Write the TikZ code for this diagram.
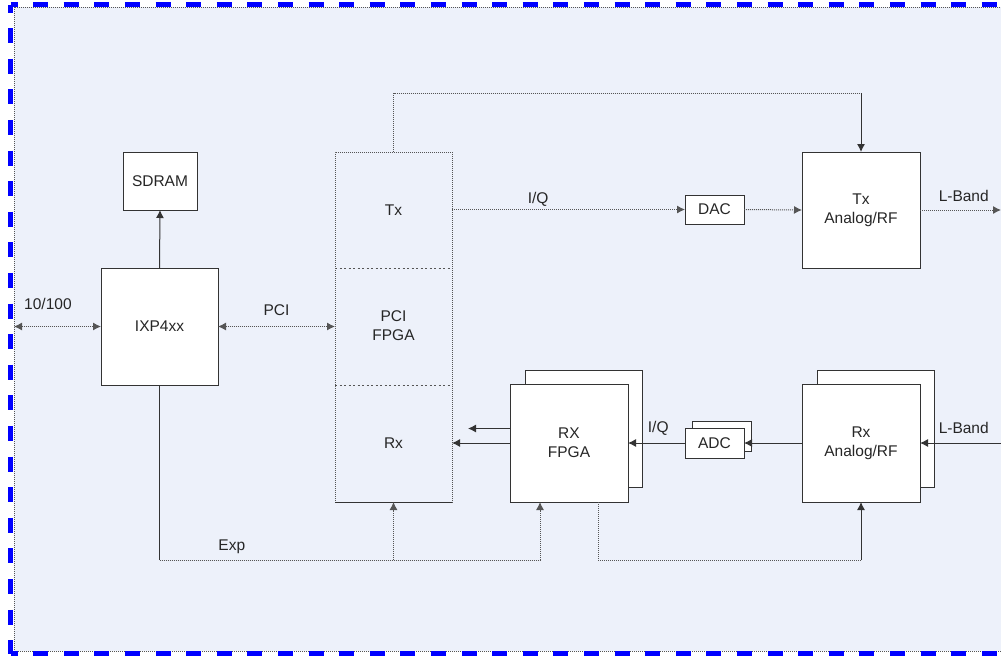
\documentclass[tikz,border=0pt]{standalone}
\usepackage{fontspec}
\setmainfont{Liberation Sans}
\usepackage{xcolor}
\usetikzlibrary{arrows.meta, positioning}
\definecolor{panel}{HTML}{EDF1FA}
\definecolor{frameblue}{HTML}{0000FF}
\definecolor{ink}{HTML}{333333}
\definecolor{dots}{HTML}{555555}

\begin{document}
\begin{tikzpicture}[
  x=1pt, y=-1pt,
  font=\fontsize{15.5pt}{19pt}\selectfont,
  box/.style     = {rectangle, draw=ink, fill=white, line width=1pt,
                    inner sep=0pt, outer sep=0pt, align=center, text=black!85},
  fpgabox/.style = {rectangle, draw=dots, line width=1pt,
                    dash pattern=on 1.2pt off 0.8pt,
                    inner sep=0pt, outer sep=0pt},
  txt/.style     = {align=center, text=black!85},
  lbl/.style     = {inner sep=0pt, anchor=base, text=black!85},
  plain/.style   = {draw=ink, line width=1pt},
  sig/.style     = {draw=dots, line width=1pt, dash pattern=on 1.2pt off 0.8pt},
  arr/.style     = {plain, -{Latex[length=8pt,width=8pt]}},
  sigarr/.style  = {sig, -{Latex[length=8pt,width=8pt]}},
  biarr/.style   = {sig, {Latex[length=8pt,width=8pt]}-{Latex[length=8pt,width=8pt]}},
  divider/.style = {draw=dots, line width=0.8pt, dash pattern=on 2pt off 2.5pt},
  frame/.style   = {draw=frameblue, line width=4.6pt, dash pattern=on 15pt off 15.6pt},
]
\useasboundingbox (0,0) rectangle (1001,657);

% panel and dashed frame
\draw[sig, fill=panel, line width=0.6pt] (14,7) rectangle (1010,651);
\draw[frame, dash phase=8pt] (10.5,4.5) -- (1010,4.5);
\draw[frame, dash phase=7pt] (10.5,4.5) -- (10.5,653.5);
\draw[frame, dash phase=8pt] (10.5,653.5) -- (1010,653.5);

% blocks
\node[box, minimum width=117pt, minimum height=117pt] (ixp) at (159.5,326.5) {IXP4xx};
\node[box, minimum width=74pt, minimum height=58pt] (sdram) at (160,181) {SDRAM};

\node[fpgabox, minimum width=117pt, minimum height=350pt] (fpga) at (393.5,327) {};
\node[txt] (fpgatx)  at (393.5,210) {Tx};
\node[txt] (fpgapci) at (393.5,326) {PCI\\FPGA};
\node[txt] (fpgarx)  at (393.5,443) {Rx};
\draw[divider] (fpga.west |- 0,268) -- (fpga.east |- 0,268);
\draw[divider] (fpga.west |- 0,385) -- (fpga.east |- 0,385);
\draw[plain] (fpga.south west) -- (fpga.south east);

\node[box, minimum width=59pt, minimum height=29pt] (dac) at (714.5,209.5) {DAC};
\node[box, minimum width=118pt, minimum height=116pt] (txrf) at (861,210) {Tx\\Analog/RF};

\node[box, minimum width=117pt, minimum height=117pt] (rxfpgaback) at (583.5,428.5) {};
\node[box, minimum width=118pt, minimum height=118pt] (rxfpga) at (569,443) {RX\\FPGA};
\node[box, minimum width=59pt, minimum height=30pt] (adcback) at (722,436) {};
\node[box, minimum width=59pt, minimum height=30pt] (adc) at (714.5,443) {ADC};
\node[box, minimum width=117pt, minimum height=117pt] (rxrfback) at (875.5,428.5) {};
\node[box, minimum width=118pt, minimum height=118pt] (rxrf) at (861,443) {Rx\\Analog/RF};

% free ends and bends
\coordinate (lan)     at (14,326.5);
\coordinate (txant)   at (1001,210);
\coordinate (rxant)   at (1001,443);
\coordinate (txfeed)  at (393.5,93);
\coordinate (rxstub)  at (468,428.5);
\coordinate (expc)    at (159.5,560);
\coordinate (expe)    at (540,560);
\coordinate (rxctl)   at (598,560);

% connectors
\draw[biarr] (lan) -- node[lbl, pos=0.39, yshift=17.5pt]{10/100} (ixp.west);
\draw[biarr] (ixp.east) -- node[lbl, yshift=11.5pt]{PCI} (ixp.east -| fpga.west);
\draw[arr]   (ixp.north) -- (sdram.south);

\draw[sig] (fpga.north) -- (txfeed) -- (txfeed -| txrf.north);
\draw[arr] (txfeed -| txrf.north) -- (txrf.north);

\draw[sigarr] (fpga.east |- dac.west) -- node[lbl, pos=0.37, yshift=6.5pt]{I/Q} (dac.west);
\draw[sigarr] (dac.east) -- (txrf.west);
\draw[sigarr] (txrf.east) -- node[lbl, pos=0.54, yshift=9pt]{L-Band} (txant);

\draw[arr] (rxant) -- node[lbl, pos=0.46, yshift=10pt]{L-Band} (rxrf.east);
\draw[arr] (rxrf.west) -- (adc.east);
\draw[arr] (adc.west) -- node[lbl, pos=0.47, yshift=11pt]{I/Q} (rxfpga.east);
\draw[arr] (rxfpga.west |- rxstub) -- (rxstub);
\draw[arr] (rxfpga.west) -- (rxfpga.west -| fpga.east);

\draw[plain]  (ixp.south) -- (expc);
\draw[sig]    (expc) -- node[lbl, pos=0.19, yshift=10pt]{Exp} (expe);
\draw[sigarr] (expc -| fpga.south) -- (fpga.south);
\draw[sigarr] (expe) -- (expe |- rxfpga.south);

\draw[sig] (rxctl |- rxfpga.south) -- (rxctl) -- (rxctl -| rxrf.south);
\draw[arr] (rxctl -| rxrf.south) -- (rxrf.south);
\end{tikzpicture}
\end{document}
